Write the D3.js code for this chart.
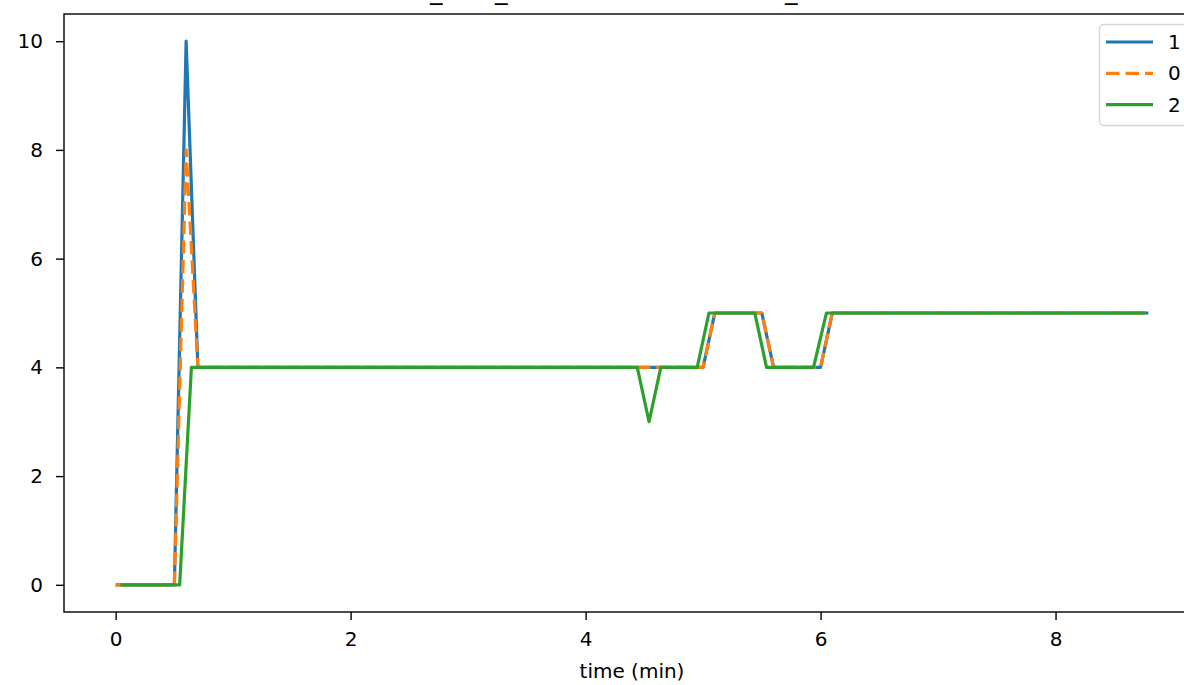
<!DOCTYPE html>
<html><head><meta charset="utf-8">
<script src="https://cdn.jsdelivr.net/npm/d3@7"></script>
<style>body{margin:0;background:#fff} svg{display:block} text{font-family:"DejaVu Sans",sans-serif}</style>
</head><body><svg id="c" width="1184" height="685"></svg>
<script>
// data
const timeA   = [0, 0.5, 0.6, 0.7, 5.0, 5.1, 5.5, 5.6, 6.0, 6.1, 8.79];
const series1 = [0, 0, 10, 4, 4, 5, 5, 4, 4, 5, 5];
const series0 = [0, 0, 8, 4, 4, 5, 5, 4, 4, 5, 5];
const timeB   = [0.04, 0.545, 0.645, 4.44, 4.54, 4.64, 4.95, 5.05, 5.44, 5.54, 5.94, 6.05, 8.77];
const series2 = [0, 0, 4, 4, 3, 4, 4, 5, 5, 4, 4, 5, 5];
const seriesNames = ["1", "0", "2"];
const xTicks = [0, 2, 4, 6, 8];
const yTicks = [0, 2, 4, 6, 8, 10];
const xLabel = "time (min)";
const titleMarks = ["_", "_", "_"];

const colors = {"1": "#1f77b4", "0": "#ff7f0e", "2": "#2ca02c"};
const svg = d3.select("#c");
const L = 64, T = 14, R = 1200, B = 612;

const allT = timeA.concat(timeB);
const tMin = d3.min(allT.concat([0])), tMax = d3.max(allT);
const padX = (tMax - tMin) * 0.05;
const x = d3.scaleLinear().domain([tMin - padX, tMax + padX]).range([L, R]);
const yMax = d3.max(series1.concat(series0, series2));
const y = d3.scaleLinear().domain([-yMax * 0.05, yMax * 1.05]).range([B, T]);

const series = [
  {name: "1", t: timeA, v: series1, dash: null},
  {name: "0", t: timeA, v: series0, dash: "13.5,6"},
  {name: "2", t: timeB, v: series2, dash: null}
];

const line = d3.line().x(d => x(d[0])).y(d => y(d[1]));
const g = svg.append("g");
series.forEach(s => {
  g.append("path")
    .attr("d", line(s.t.map((t, i) => [t, s.v[i]])))
    .attr("fill", "none").attr("stroke", colors[s.name])
    .attr("stroke-width", 3.2)
    .attr("stroke-linejoin", "round")
    .attr("stroke-dasharray", s.dash);
});

// axes
const xAxis = d3.axisBottom(x).tickValues(xTicks).tickFormat(d3.format("d")).tickSize(8).tickPadding(12);
const yAxis = d3.axisLeft(y).tickValues(yTicks).tickFormat(d3.format("d")).tickSize(8).tickPadding(13);
const gx = svg.append("g").attr("transform", `translate(0,${B})`).call(xAxis);
const gy = svg.append("g").attr("transform", `translate(${L},0)`).call(yAxis);
[gx, gy].forEach(a => {
  a.select(".domain").remove();
  a.selectAll("line").attr("stroke", "#000").attr("stroke-width", 1.4);
  a.selectAll("text").attr("font-size", 20).attr("fill", "#000").attr("font-family", "DejaVu Sans");
});
// spines
svg.append("rect").attr("x", L).attr("y", T).attr("width", R - L).attr("height", B - T)
  .attr("fill", "none").attr("stroke", "#000").attr("stroke-width", 1.4);

svg.append("text").attr("x", (L + R) / 2).attr("y", 678).attr("text-anchor", "middle")
  .attr("font-size", 20).text(xLabel);

// title (cut off above the picture; only underscores remain visible)
const titleX = [430, 495, 785];
titleMarks.forEach((m, i) => {
  svg.append("text").attr("x", titleX[i]).attr("y", -1.5).attr("font-size", 25).text(m);
});

// legend
const lg = svg.append("g");
lg.append("rect").attr("x", 1099.5).attr("y", 24.5).attr("width", 92).attr("height", 101).attr("rx", 4)
  .attr("fill", "#fff").attr("fill-opacity", 0.8).attr("stroke", "#d6d6d6").attr("stroke-width", 1.4);
const order = ["1", "0", "2"];
order.forEach((n, i) => {
  const s = series.find(d => d.name === n);
  const yy = 42 + i * 31.3;
  lg.append("line").attr("x1", 1106).attr("x2", 1153).attr("y1", yy).attr("y2", yy)
    .attr("stroke", colors[n]).attr("stroke-width", 3.2).attr("stroke-dasharray", s.dash);
  lg.append("text").attr("x", 1168).attr("y", yy).attr("dy", "0.35em").attr("font-size", 20).text(seriesNames[seriesNames.indexOf(n)]);
});
</script></body></html>
